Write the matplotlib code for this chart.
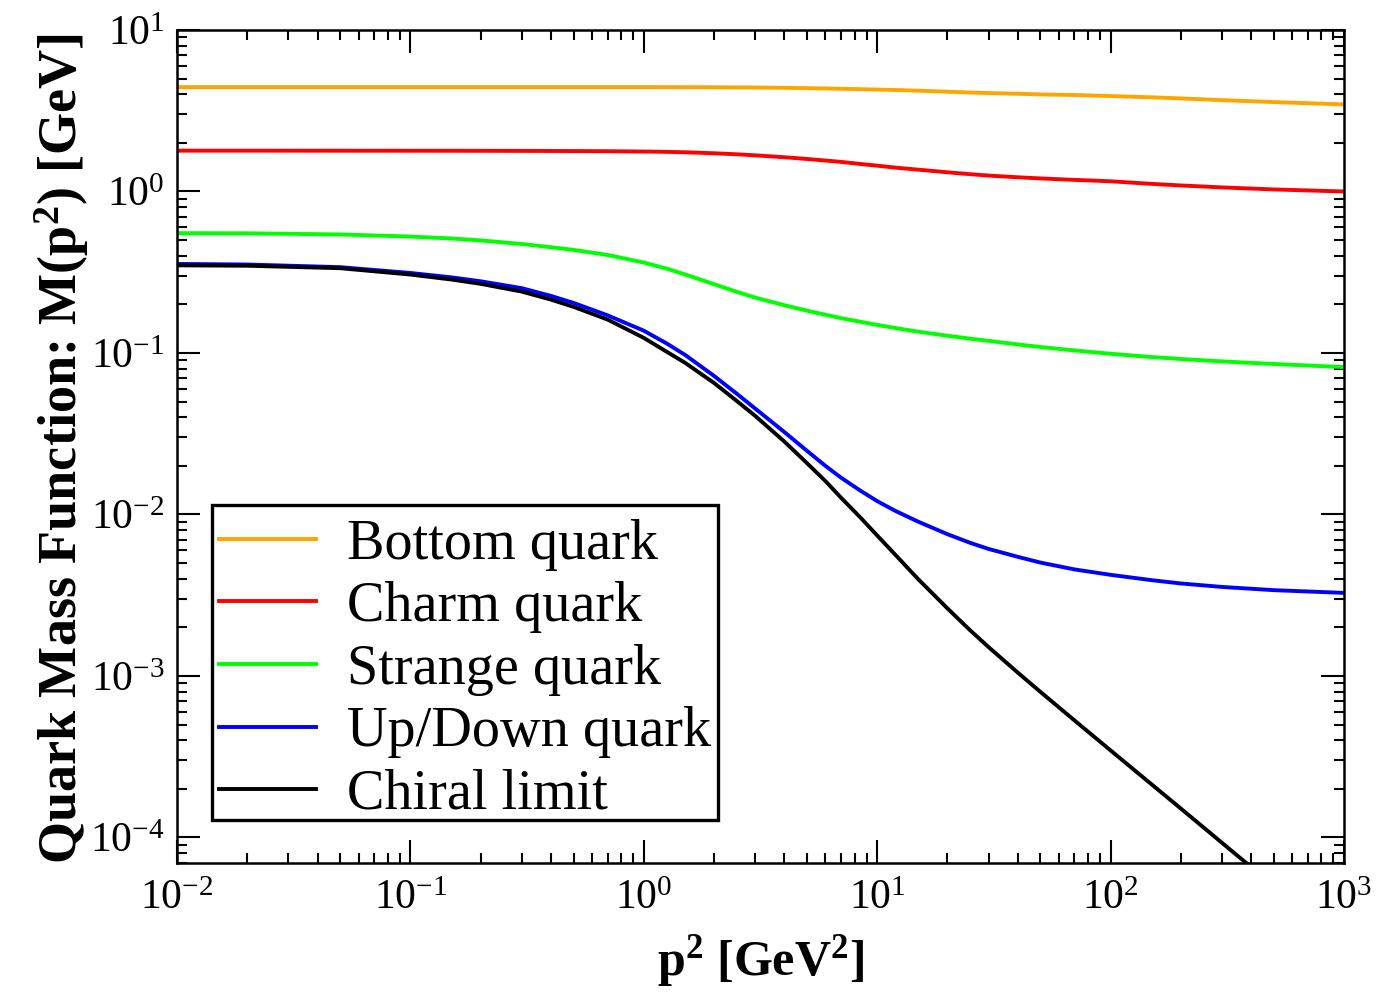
import numpy as np
import matplotlib
matplotlib.use('Agg')
import matplotlib.pyplot as plt

plt.rcParams['font.family'] = ['Liberation Serif', 'DejaVu Serif']
plt.rcParams['mathtext.fontset'] = 'custom'
plt.rcParams['mathtext.rm'] = 'Liberation Serif'
plt.rcParams['mathtext.bf'] = 'Liberation Serif:bold'
plt.rcParams['axes.unicode_minus'] = False

# momentum grid p^2 [GeV^2]
p2 = [0.01, 0.02, 0.05, 0.1, 0.15, 0.2, 0.3, 0.4, 0.5, 0.7, 1, 1.25, 1.5, 2,
      2.5, 3, 4, 5, 6, 7, 8.5, 10, 12, 15, 20, 25, 30, 40, 50, 70, 100, 150,
      200, 300, 500, 1000]

bottom = [4.43, 4.43, 4.43, 4.43, 4.43, 4.43, 4.43, 4.43, 4.43, 4.43, 4.43,
          4.428, 4.426, 4.42, 4.413, 4.406, 4.385, 4.365, 4.345, 4.325, 4.30,
          4.276, 4.25, 4.21, 4.15, 4.10, 4.07, 4.03, 3.99, 3.96, 3.90, 3.83,
          3.77, 3.68, 3.58, 3.46]
charm = [1.790, 1.790, 1.789, 1.788, 1.787, 1.786, 1.784, 1.782, 1.780, 1.776,
         1.768, 1.760, 1.750, 1.725, 1.700, 1.675, 1.630, 1.590, 1.555, 1.525,
         1.480, 1.445, 1.405, 1.365, 1.315, 1.280, 1.255, 1.225, 1.205, 1.180,
         1.157, 1.115, 1.090, 1.060, 1.030, 1.000]
strange = [0.552, 0.551, 0.542, 0.526, 0.512, 0.498, 0.473, 0.452, 0.435,
           0.4046, 0.3631, 0.3334, 0.3069, 0.2667, 0.2393, 0.2203, 0.1977,
           0.1828, 0.1726, 0.1644, 0.1560, 0.1493, 0.1426, 0.1355, 0.1279,
           0.1227, 0.1189, 0.1130, 0.1089, 0.1038, 0.0989, 0.0944, 0.0918,
           0.0887, 0.0855, 0.0818]
updown = [0.356, 0.353, 0.340, 0.313, 0.294, 0.278, 0.252, 0.2257, 0.2042,
          0.1710, 0.1374, 0.1148, 0.0975, 0.0721, 0.0560, 0.0453, 0.0324,
          0.0248, 0.0200, 0.0169, 0.0140, 0.0121, 0.0105, 0.00902, 0.00755,
          0.00668, 0.00612, 0.00547, 0.00504, 0.00457, 0.00423, 0.00392,
          0.00374, 0.00356, 0.00340, 0.00327]
chiral = [0.349, 0.347, 0.335, 0.306, 0.285, 0.268, 0.240, 0.214, 0.193,
          0.161, 0.124, 0.102, 0.0871, 0.0652, 0.0505, 0.0408, 0.0283,
          0.0208, 0.0161, 0.0127, 0.00953, 0.00741, 0.00560, 0.00397,
          0.00262, 0.00192, 0.00151, 0.00105, 0.000798, 0.000531, 0.000346,
          0.000213, 0.000151, 0.0000927, 0.0000502, 0.0000219]

labels = ['Bottom quark', 'Charm quark', 'Strange quark', 'Up/Down quark', 'Chiral limit']
colors = ['#FFA500', '#FF0000', '#00FF00', '#0000FF', '#000000']

fig = plt.figure(figsize=(13.83, 10), dpi=100)
ax = fig.add_axes([0.128, 0.1375, 0.8438, 0.8325])

for ys, lab, c in zip([bottom, charm, strange, updown, chiral], labels, colors):
    ax.plot(p2, ys, color=c, lw=2.8, label=lab)

ax.set_xscale('log')
ax.set_yscale('log')
ax.set_xlim(1e-2, 1e3)
ax.set_ylim(7e-5, 10)

for s in ax.spines.values():
    s.set_linewidth(1.8)
ax.tick_params(which='both', direction='in', top=True, right=True, width=1.5)
ax.tick_params(which='major', length=16.5, labelsize=30, pad=12)
ax.tick_params(which='minor', length=7)
ax.tick_params(axis='y', which='major', pad=9)

ax.set_xlabel(r'$\mathbf{p^{2}}$ [Ge$\mathbf{V^{2}}$]', fontsize=36, fontweight='bold')
ax.set_ylabel(r'Quark Mass Function: M($\mathbf{p^{2}}$) [GeV]', fontsize=39, fontweight='bold')
ax.xaxis.set_label_coords(0.5, -0.085)
ax.yaxis.set_label_coords(-0.074, 0.497)

leg = ax.legend(loc='lower left', bbox_to_anchor=(0.030, 0.0505), borderaxespad=0,
                fontsize=40.5, fancybox=False, framealpha=1, edgecolor='black',
                handlelength=1.72, handletextpad=0.56, labelspacing=0.187,
                borderpad=0.12)
leg.get_frame().set_linewidth(2.4)
# sit the rows a little lower inside the frame, as in the original
shift_px = 7
for t in leg.get_texts():
    t.set_y(-shift_px)
for line in leg.get_lines():
    line.set_linewidth(2.8)
    line.set_ydata(np.asarray(line.get_ydata()) - shift_px * 72 / fig.dpi)

fig.savefig('out.png', dpi=100)
